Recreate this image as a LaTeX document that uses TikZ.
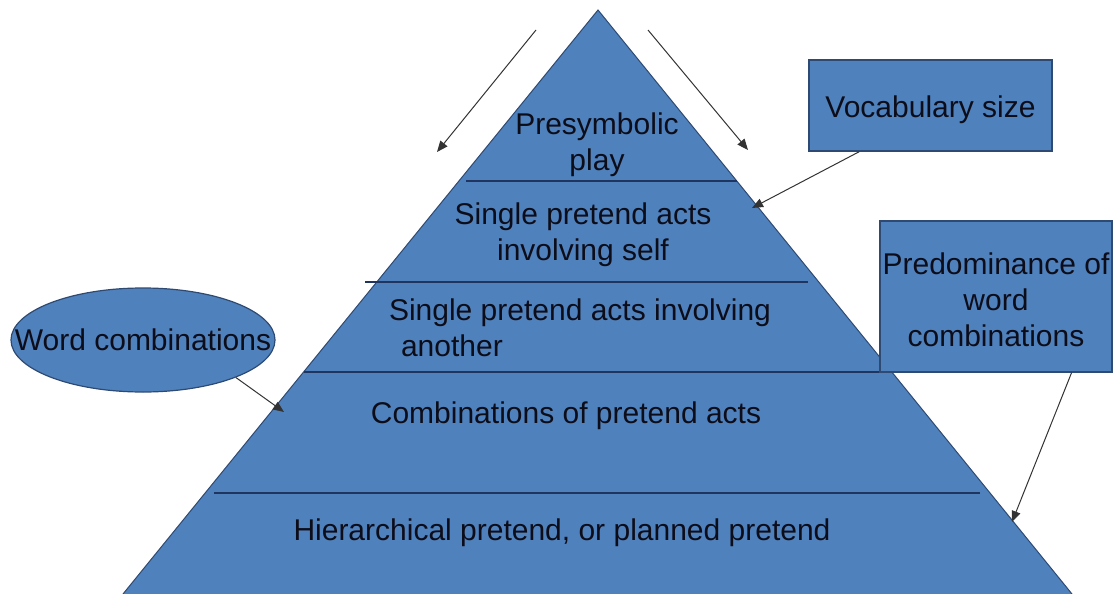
\documentclass[tikz,border=0pt]{standalone}
\usepackage{fontspec}
\setmainfont{Liberation Sans}
\usetikzlibrary{arrows.meta,shapes.geometric}
\definecolor{fillblue}{HTML}{4F81BD}
\definecolor{edgeblue}{HTML}{2E4A72}
\definecolor{sepline}{HTML}{1F3560}
\definecolor{txt}{HTML}{0D0D1A}
\definecolor{arr}{HTML}{333333}
\tikzset{
  lbl/.style={font=\fontsize{30}{36}\selectfont, text=txt, align=center, inner sep=0pt},
  callbox/.style={draw=edgeblue, fill=fillblue, line width=1.2pt},
  conn/.style={draw=arr, line width=1pt, -{Triangle[length=11pt,width=9pt]}},
  layerline/.style={draw=sepline, line width=1.2pt}
}
\begin{document}
\begin{tikzpicture}[x=1pt,y=-1pt]
\useasboundingbox (0,0) rectangle (1119,594);
% pyramid
\coordinate (apex) at (598,10);
\coordinate (bl) at (123,594);
\coordinate (br) at (1072,594);
\fill[fillblue] (apex) -- (br) -- (bl) -- cycle;
\draw[edgeblue, line width=1pt] (bl) -- (apex) -- (br);
% layer separators
\draw[layerline] (466,181) -- (737,181);
\draw[layerline] (365,282) -- (808,282);
\draw[layerline] (304,372) -- (882,372);
\draw[layerline] (214,493) -- (980,493);
% layer texts
\node[lbl] (l1) at (597,144.5) {Presymbolic\\play};
\node[lbl] (l2) at (583,234.5) {Single pretend acts\\involving self};
\node[lbl, align=left] (l3) at (580,327.5) {Single pretend acts involving\\\hspace*{12pt}another};
\node[lbl] (l4) at (566,416) {Combinations of pretend acts};
\node[lbl] (l5) at (562,533) {Hierarchical pretend, or planned pretend};
% callouts
\node[callbox, lbl, minimum width=243pt, minimum height=91pt, text height=29.5pt, text depth=6.3pt] (vocab) at (930.5,105.5) {Vocabulary size};
\node[callbox, lbl, minimum width=232pt, minimum height=151pt, text height=100pt, text depth=0pt] (pred) at (996,296.5) {Predominance of\\word\\combinations};
\node[callbox, ellipse, inner sep=0pt, minimum width=264pt, minimum height=104pt, font=\fontsize{30}{36}\selectfont, text=txt] (wc) at (143,340) {\makebox[0pt]{Word combinations}};
% arrow endpoints
\coordinate (la1) at (536,30);
\coordinate (la2) at (437,152);
\coordinate (ra1) at (648,30);
\coordinate (ra2) at (748,150);
\coordinate (vt) at (752,208);
\coordinate (wt) at (284,412);
\coordinate (pt) at (1012,522);
% connectors
\draw[conn] (la1) -- (la2);
\draw[conn] (ra1) -- (ra2);
\draw[conn] (vocab.south west) ++(51,0) coordinate (vs) (vs) -- (vt);
\draw[conn] (wc.-22) -- (wt);
\draw[conn] (pred.south east) ++(-41,0) coordinate (ps) (ps) -- (pt);
\end{tikzpicture}
\end{document}
